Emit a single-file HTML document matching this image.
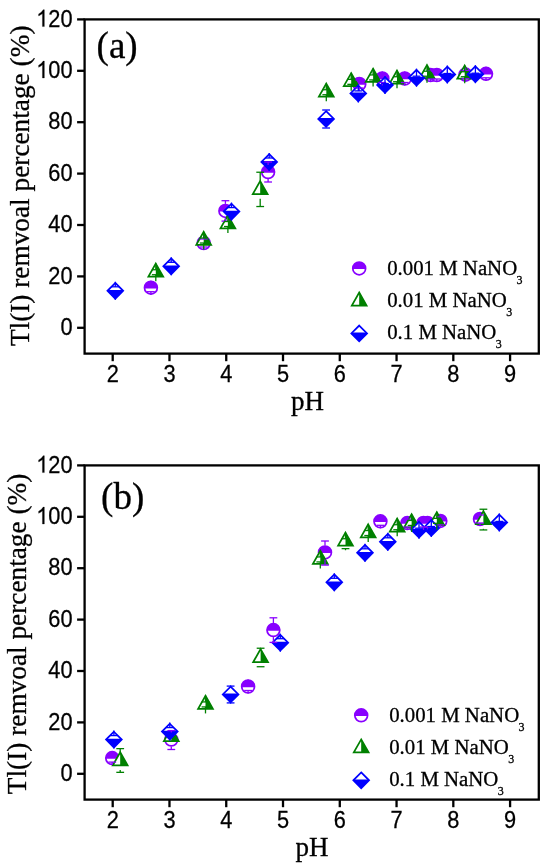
<!DOCTYPE html>
<html><head><meta charset="utf-8"><title>Tl(I) removal vs pH</title>
<style>
html,body{margin:0;padding:0;background:#fff;}
body{width:551px;height:865px;overflow:hidden;}
svg{display:block;will-change:transform;}
</style></head>
<body>
<svg width="551" height="865" viewBox="0 0 551 865">
<rect width="551" height="865" fill="#fff"/>
<rect x="84.6" y="19.4" width="454.2" height="334.2" fill="none" stroke="#000" stroke-width="2.3"/>
<line x1="77.1" y1="327.8" x2="84.6" y2="327.8" stroke="#000" stroke-width="2.3"/>
<text transform="translate(72.6,335) scale(1,1.08)" text-anchor="end" font-family="'Liberation Sans', sans-serif" stroke="#000" stroke-width="0.25" font-size="21.8">0</text>
<line x1="77.1" y1="276.4" x2="84.6" y2="276.4" stroke="#000" stroke-width="2.3"/>
<text transform="translate(72.6,283.6) scale(1,1.08)" text-anchor="end" font-family="'Liberation Sans', sans-serif" stroke="#000" stroke-width="0.25" font-size="21.8">20</text>
<line x1="77.1" y1="225" x2="84.6" y2="225" stroke="#000" stroke-width="2.3"/>
<text transform="translate(72.6,232.2) scale(1,1.08)" text-anchor="end" font-family="'Liberation Sans', sans-serif" stroke="#000" stroke-width="0.25" font-size="21.8">40</text>
<line x1="77.1" y1="173.6" x2="84.6" y2="173.6" stroke="#000" stroke-width="2.3"/>
<text transform="translate(72.6,180.8) scale(1,1.08)" text-anchor="end" font-family="'Liberation Sans', sans-serif" stroke="#000" stroke-width="0.25" font-size="21.8">60</text>
<line x1="77.1" y1="122.2" x2="84.6" y2="122.2" stroke="#000" stroke-width="2.3"/>
<text transform="translate(72.6,129.4) scale(1,1.08)" text-anchor="end" font-family="'Liberation Sans', sans-serif" stroke="#000" stroke-width="0.25" font-size="21.8">80</text>
<line x1="77.1" y1="70.8" x2="84.6" y2="70.8" stroke="#000" stroke-width="2.3"/>
<path transform="translate(36.23,78) scale(0.01064,-0.01150)" d="M763 0H583V1147Q518 1085 412.5 1023T223 930V1104Q374 1175 487 1276T647 1472H763V0Z" stroke="#000" stroke-width="23.5"/>
<text transform="translate(72.6,78) scale(1,1.08)" text-anchor="end" font-family="'Liberation Sans', sans-serif" stroke="#000" stroke-width="0.25" font-size="21.8">00</text>
<line x1="77.1" y1="19.4" x2="84.6" y2="19.4" stroke="#000" stroke-width="2.3"/>
<path transform="translate(36.23,26.6) scale(0.01064,-0.01150)" d="M763 0H583V1147Q518 1085 412.5 1023T223 930V1104Q374 1175 487 1276T647 1472H763V0Z" stroke="#000" stroke-width="23.5"/>
<text transform="translate(72.6,26.6) scale(1,1.08)" text-anchor="end" font-family="'Liberation Sans', sans-serif" stroke="#000" stroke-width="0.25" font-size="21.8">20</text>
<line x1="112.7" y1="353.6" x2="112.7" y2="361.2" stroke="#000" stroke-width="2.3"/>
<text transform="translate(112.7,382.3) scale(1,1.08)" text-anchor="middle" font-family="'Liberation Sans', sans-serif" stroke="#000" stroke-width="0.25" font-size="21.8">2</text>
<line x1="169.47" y1="353.6" x2="169.47" y2="361.2" stroke="#000" stroke-width="2.3"/>
<text transform="translate(169.47,382.3) scale(1,1.08)" text-anchor="middle" font-family="'Liberation Sans', sans-serif" stroke="#000" stroke-width="0.25" font-size="21.8">3</text>
<line x1="226.24" y1="353.6" x2="226.24" y2="361.2" stroke="#000" stroke-width="2.3"/>
<text transform="translate(226.24,382.3) scale(1,1.08)" text-anchor="middle" font-family="'Liberation Sans', sans-serif" stroke="#000" stroke-width="0.25" font-size="21.8">4</text>
<line x1="283.01" y1="353.6" x2="283.01" y2="361.2" stroke="#000" stroke-width="2.3"/>
<text transform="translate(283.01,382.3) scale(1,1.08)" text-anchor="middle" font-family="'Liberation Sans', sans-serif" stroke="#000" stroke-width="0.25" font-size="21.8">5</text>
<line x1="339.78" y1="353.6" x2="339.78" y2="361.2" stroke="#000" stroke-width="2.3"/>
<text transform="translate(339.78,382.3) scale(1,1.08)" text-anchor="middle" font-family="'Liberation Sans', sans-serif" stroke="#000" stroke-width="0.25" font-size="21.8">6</text>
<line x1="396.55" y1="353.6" x2="396.55" y2="361.2" stroke="#000" stroke-width="2.3"/>
<text transform="translate(396.55,382.3) scale(1,1.08)" text-anchor="middle" font-family="'Liberation Sans', sans-serif" stroke="#000" stroke-width="0.25" font-size="21.8">7</text>
<line x1="453.32" y1="353.6" x2="453.32" y2="361.2" stroke="#000" stroke-width="2.3"/>
<text transform="translate(453.32,382.3) scale(1,1.08)" text-anchor="middle" font-family="'Liberation Sans', sans-serif" stroke="#000" stroke-width="0.25" font-size="21.8">8</text>
<line x1="510.09" y1="353.6" x2="510.09" y2="361.2" stroke="#000" stroke-width="2.3"/>
<text transform="translate(510.09,382.3) scale(1,1.08)" text-anchor="middle" font-family="'Liberation Sans', sans-serif" stroke="#000" stroke-width="0.25" font-size="21.8">9</text>
<text x="291" y="409.6" font-family="'Liberation Serif', serif" stroke="#000" stroke-width="0.3" font-size="27">pH</text>
<text transform="translate(29,185.8) rotate(-90)" text-anchor="middle" font-family="'Liberation Serif', serif" stroke="#000" stroke-width="0.3" font-size="27.3">Tl(I) remvoal percentage (%)</text>
<text x="96.6" y="57.6" font-family="'Liberation Serif', serif" stroke="#000" stroke-width="0.3" font-size="37">(a)</text>
<circle cx="150.9" cy="287.7" r="6.4" fill="#fff"/><path d="M144.54,288.4 A6.4,6.4 0 1 1 157.26,288.4 Z" fill="#8800ff"/><circle cx="150.9" cy="287.7" r="6.4" fill="none" stroke="#8800ff" stroke-width="1.75"/>
<circle cx="203.7" cy="243" r="6.4" fill="#fff"/><path d="M197.34,243.7 A6.4,6.4 0 1 1 210.06,243.7 Z" fill="#8800ff"/><circle cx="203.7" cy="243" r="6.4" fill="none" stroke="#8800ff" stroke-width="1.75"/>
<circle cx="225.4" cy="210.9" r="6.4" fill="#fff"/><path d="M219.04,211.6 A6.4,6.4 0 1 1 231.76,211.6 Z" fill="#8800ff"/><circle cx="225.4" cy="210.9" r="6.4" fill="none" stroke="#8800ff" stroke-width="1.75"/>
<circle cx="268.1" cy="172" r="6.4" fill="#fff"/><path d="M261.74,172.7 A6.4,6.4 0 1 1 274.46,172.7 Z" fill="#8800ff"/><circle cx="268.1" cy="172" r="6.4" fill="none" stroke="#8800ff" stroke-width="1.75"/>
<circle cx="359.3" cy="84" r="6.4" fill="#fff"/><path d="M352.94,84.7 A6.4,6.4 0 1 1 365.66,84.7 Z" fill="#8800ff"/><circle cx="359.3" cy="84" r="6.4" fill="none" stroke="#8800ff" stroke-width="1.75"/>
<circle cx="382.3" cy="78.5" r="6.4" fill="#fff"/><path d="M375.94,79.2 A6.4,6.4 0 1 1 388.66,79.2 Z" fill="#8800ff"/><circle cx="382.3" cy="78.5" r="6.4" fill="none" stroke="#8800ff" stroke-width="1.75"/>
<circle cx="404.7" cy="78.5" r="6.4" fill="#fff"/><path d="M398.34,79.2 A6.4,6.4 0 1 1 411.06,79.2 Z" fill="#8800ff"/><circle cx="404.7" cy="78.5" r="6.4" fill="none" stroke="#8800ff" stroke-width="1.75"/>
<circle cx="430.6" cy="75" r="6.4" fill="#fff"/><path d="M424.24,75.7 A6.4,6.4 0 1 1 436.96,75.7 Z" fill="#8800ff"/><circle cx="430.6" cy="75" r="6.4" fill="none" stroke="#8800ff" stroke-width="1.75"/>
<circle cx="436.8" cy="75" r="6.4" fill="#fff"/><path d="M430.44,75.7 A6.4,6.4 0 1 1 443.16,75.7 Z" fill="#8800ff"/><circle cx="436.8" cy="75" r="6.4" fill="none" stroke="#8800ff" stroke-width="1.75"/>
<circle cx="465.5" cy="74.6" r="6.4" fill="#fff"/><path d="M459.14,75.3 A6.4,6.4 0 1 1 471.86,75.3 Z" fill="#8800ff"/><circle cx="465.5" cy="74.6" r="6.4" fill="none" stroke="#8800ff" stroke-width="1.75"/>
<circle cx="486" cy="73.8" r="6.4" fill="#fff"/><path d="M479.64,74.5 A6.4,6.4 0 1 1 492.36,74.5 Z" fill="#8800ff"/><circle cx="486" cy="73.8" r="6.4" fill="none" stroke="#8800ff" stroke-width="1.75"/>
<path d="M155.8,263.56 L163.2,276.56 L148.4,276.56 Z" fill="#fff"/><path d="M155.8,263.56 L163.2,276.56 L155.8,276.56 Z" fill="#008000"/><path d="M155.8,263.56 L163.2,276.56 L148.4,276.56 Z" fill="none" stroke="#008000" stroke-width="1.75" stroke-linejoin="miter"/>
<path d="M203.7,231.86 L211.1,244.86 L196.3,244.86 Z" fill="#fff"/><path d="M203.7,231.86 L211.1,244.86 L203.7,244.86 Z" fill="#008000"/><path d="M203.7,231.86 L211.1,244.86 L196.3,244.86 Z" fill="none" stroke="#008000" stroke-width="1.75" stroke-linejoin="miter"/>
<path d="M227.9,215.36 L235.3,228.36 L220.5,228.36 Z" fill="#fff"/><path d="M227.9,215.36 L235.3,228.36 L227.9,228.36 Z" fill="#008000"/><path d="M227.9,215.36 L235.3,228.36 L220.5,228.36 Z" fill="none" stroke="#008000" stroke-width="1.75" stroke-linejoin="miter"/>
<path d="M260.2,181.06 L267.6,194.06 L252.8,194.06 Z" fill="#fff"/><path d="M260.2,181.06 L267.6,194.06 L260.2,194.06 Z" fill="#008000"/><path d="M260.2,181.06 L267.6,194.06 L252.8,194.06 Z" fill="none" stroke="#008000" stroke-width="1.75" stroke-linejoin="miter"/>
<path d="M326.3,83.56 L333.7,96.56 L318.9,96.56 Z" fill="#fff"/><path d="M326.3,83.56 L333.7,96.56 L326.3,96.56 Z" fill="#008000"/><path d="M326.3,83.56 L333.7,96.56 L318.9,96.56 Z" fill="none" stroke="#008000" stroke-width="1.75" stroke-linejoin="miter"/>
<path d="M351.2,73.16 L358.6,86.16 L343.8,86.16 Z" fill="#fff"/><path d="M351.2,73.16 L358.6,86.16 L351.2,86.16 Z" fill="#008000"/><path d="M351.2,73.16 L358.6,86.16 L343.8,86.16 Z" fill="none" stroke="#008000" stroke-width="1.75" stroke-linejoin="miter"/>
<path d="M373.1,68.76 L380.5,81.76 L365.7,81.76 Z" fill="#fff"/><path d="M373.1,68.76 L380.5,81.76 L373.1,81.76 Z" fill="#008000"/><path d="M373.1,68.76 L380.5,81.76 L365.7,81.76 Z" fill="none" stroke="#008000" stroke-width="1.75" stroke-linejoin="miter"/>
<path d="M397,70.56 L404.4,83.56 L389.6,83.56 Z" fill="#fff"/><path d="M397,70.56 L404.4,83.56 L397,83.56 Z" fill="#008000"/><path d="M397,70.56 L404.4,83.56 L389.6,83.56 Z" fill="none" stroke="#008000" stroke-width="1.75" stroke-linejoin="miter"/>
<path d="M427,65.06 L434.4,78.06 L419.6,78.06 Z" fill="#fff"/><path d="M427,65.06 L434.4,78.06 L427,78.06 Z" fill="#008000"/><path d="M427,65.06 L434.4,78.06 L419.6,78.06 Z" fill="none" stroke="#008000" stroke-width="1.75" stroke-linejoin="miter"/>
<path d="M464.7,65.56 L472.1,78.56 L457.3,78.56 Z" fill="#fff"/><path d="M464.7,65.56 L472.1,78.56 L464.7,78.56 Z" fill="#008000"/><path d="M464.7,65.56 L472.1,78.56 L457.3,78.56 Z" fill="none" stroke="#008000" stroke-width="1.75" stroke-linejoin="miter"/>
<path d="M115.3,282.95 L123.15,290.8 L115.3,298.65 L107.45,290.8 Z" fill="#fff"/><path d="M108.35,289.9 L122.25,289.9 L123.15,290.8 L115.3,298.65 L107.45,290.8 Z" fill="#0000ff"/><path d="M115.3,282.95 L123.15,290.8 L115.3,298.65 L107.45,290.8 Z" fill="none" stroke="#0000ff" stroke-width="1.75"/>
<path d="M171.2,258.45 L179.05,266.3 L171.2,274.15 L163.35,266.3 Z" fill="#fff"/><path d="M164.25,265.4 L178.15,265.4 L179.05,266.3 L171.2,274.15 L163.35,266.3 Z" fill="#0000ff"/><path d="M171.2,258.45 L179.05,266.3 L171.2,274.15 L163.35,266.3 Z" fill="none" stroke="#0000ff" stroke-width="1.75"/>
<path d="M231.5,203.75 L239.35,211.6 L231.5,219.45 L223.65,211.6 Z" fill="#fff"/><path d="M224.55,210.7 L238.45,210.7 L239.35,211.6 L231.5,219.45 L223.65,211.6 Z" fill="#0000ff"/><path d="M231.5,203.75 L239.35,211.6 L231.5,219.45 L223.65,211.6 Z" fill="none" stroke="#0000ff" stroke-width="1.75"/>
<path d="M269.2,154.15 L277.05,162 L269.2,169.85 L261.35,162 Z" fill="#fff"/><path d="M262.25,161.1 L276.15,161.1 L277.05,162 L269.2,169.85 L261.35,162 Z" fill="#0000ff"/><path d="M269.2,154.15 L277.05,162 L269.2,169.85 L261.35,162 Z" fill="none" stroke="#0000ff" stroke-width="1.75"/>
<path d="M326.1,111.15 L333.95,119 L326.1,126.85 L318.25,119 Z" fill="#fff"/><path d="M319.15,118.1 L333.05,118.1 L333.95,119 L326.1,126.85 L318.25,119 Z" fill="#0000ff"/><path d="M326.1,111.15 L333.95,119 L326.1,126.85 L318.25,119 Z" fill="none" stroke="#0000ff" stroke-width="1.75"/>
<path d="M358.3,85.55 L366.15,93.4 L358.3,101.25 L350.45,93.4 Z" fill="#fff"/><path d="M351.35,92.5 L365.25,92.5 L366.15,93.4 L358.3,101.25 L350.45,93.4 Z" fill="#0000ff"/><path d="M358.3,85.55 L366.15,93.4 L358.3,101.25 L350.45,93.4 Z" fill="none" stroke="#0000ff" stroke-width="1.75"/>
<path d="M385,77.15 L392.85,85 L385,92.85 L377.15,85 Z" fill="#fff"/><path d="M378.05,84.1 L391.95,84.1 L392.85,85 L385,92.85 L377.15,85 Z" fill="#0000ff"/><path d="M385,77.15 L392.85,85 L385,92.85 L377.15,85 Z" fill="none" stroke="#0000ff" stroke-width="1.75"/>
<path d="M416.5,69.85 L424.35,77.7 L416.5,85.55 L408.65,77.7 Z" fill="#fff"/><path d="M409.55,76.8 L423.45,76.8 L424.35,77.7 L416.5,85.55 L408.65,77.7 Z" fill="#0000ff"/><path d="M416.5,69.85 L424.35,77.7 L416.5,85.55 L408.65,77.7 Z" fill="none" stroke="#0000ff" stroke-width="1.75"/>
<path d="M447.3,66.65 L455.15,74.5 L447.3,82.35 L439.45,74.5 Z" fill="#fff"/><path d="M440.35,73.6 L454.25,73.6 L455.15,74.5 L447.3,82.35 L439.45,74.5 Z" fill="#0000ff"/><path d="M447.3,66.65 L455.15,74.5 L447.3,82.35 L439.45,74.5 Z" fill="none" stroke="#0000ff" stroke-width="1.75"/>
<path d="M475.4,66.35 L483.25,74.2 L475.4,82.05 L467.55,74.2 Z" fill="#fff"/><path d="M468.45,73.3 L482.35,73.3 L483.25,74.2 L475.4,82.05 L467.55,74.2 Z" fill="#0000ff"/><path d="M475.4,66.35 L483.25,74.2 L475.4,82.05 L467.55,74.2 Z" fill="none" stroke="#0000ff" stroke-width="1.75"/>
<line x1="150.9" y1="280.7" x2="150.9" y2="283.7" stroke="#8800ff" stroke-width="1.3"/><line x1="147" y1="283.7" x2="154.8" y2="283.7" stroke="#8800ff" stroke-width="1.3"/><line x1="150.9" y1="294.7" x2="150.9" y2="291.7" stroke="#8800ff" stroke-width="1.3"/><line x1="147" y1="291.7" x2="154.8" y2="291.7" stroke="#8800ff" stroke-width="1.3"/>
<line x1="203.7" y1="236" x2="203.7" y2="239" stroke="#8800ff" stroke-width="1.3"/><line x1="199.8" y1="239" x2="207.6" y2="239" stroke="#8800ff" stroke-width="1.3"/><line x1="203.7" y1="250" x2="203.7" y2="247" stroke="#8800ff" stroke-width="1.3"/><line x1="199.8" y1="247" x2="207.6" y2="247" stroke="#8800ff" stroke-width="1.3"/>
<line x1="225.4" y1="203.9" x2="225.4" y2="200.7" stroke="#8800ff" stroke-width="1.3"/><line x1="221.5" y1="200.7" x2="229.3" y2="200.7" stroke="#8800ff" stroke-width="1.3"/><line x1="225.4" y1="217.9" x2="225.4" y2="221.1" stroke="#8800ff" stroke-width="1.3"/><line x1="221.5" y1="221.1" x2="229.3" y2="221.1" stroke="#8800ff" stroke-width="1.3"/>
<line x1="268.1" y1="165" x2="268.1" y2="162" stroke="#8800ff" stroke-width="1.3"/><line x1="264.2" y1="162" x2="272" y2="162" stroke="#8800ff" stroke-width="1.3"/><line x1="268.1" y1="179" x2="268.1" y2="182" stroke="#8800ff" stroke-width="1.3"/><line x1="264.2" y1="182" x2="272" y2="182" stroke="#8800ff" stroke-width="1.3"/>
<line x1="359.3" y1="77" x2="359.3" y2="80" stroke="#8800ff" stroke-width="1.3"/><line x1="355.4" y1="80" x2="363.2" y2="80" stroke="#8800ff" stroke-width="1.3"/><line x1="359.3" y1="91" x2="359.3" y2="88" stroke="#8800ff" stroke-width="1.3"/><line x1="355.4" y1="88" x2="363.2" y2="88" stroke="#8800ff" stroke-width="1.3"/>
<line x1="382.3" y1="71.5" x2="382.3" y2="74.5" stroke="#8800ff" stroke-width="1.3"/><line x1="378.4" y1="74.5" x2="386.2" y2="74.5" stroke="#8800ff" stroke-width="1.3"/><line x1="382.3" y1="85.5" x2="382.3" y2="82.5" stroke="#8800ff" stroke-width="1.3"/><line x1="378.4" y1="82.5" x2="386.2" y2="82.5" stroke="#8800ff" stroke-width="1.3"/>
<line x1="404.7" y1="71.5" x2="404.7" y2="74.5" stroke="#8800ff" stroke-width="1.3"/><line x1="400.8" y1="74.5" x2="408.6" y2="74.5" stroke="#8800ff" stroke-width="1.3"/><line x1="404.7" y1="85.5" x2="404.7" y2="82.5" stroke="#8800ff" stroke-width="1.3"/><line x1="400.8" y1="82.5" x2="408.6" y2="82.5" stroke="#8800ff" stroke-width="1.3"/>
<line x1="430.6" y1="68" x2="430.6" y2="71" stroke="#8800ff" stroke-width="1.3"/><line x1="426.7" y1="71" x2="434.5" y2="71" stroke="#8800ff" stroke-width="1.3"/><line x1="430.6" y1="82" x2="430.6" y2="79" stroke="#8800ff" stroke-width="1.3"/><line x1="426.7" y1="79" x2="434.5" y2="79" stroke="#8800ff" stroke-width="1.3"/>
<line x1="436.8" y1="68" x2="436.8" y2="71" stroke="#8800ff" stroke-width="1.3"/><line x1="432.9" y1="71" x2="440.7" y2="71" stroke="#8800ff" stroke-width="1.3"/><line x1="436.8" y1="82" x2="436.8" y2="79" stroke="#8800ff" stroke-width="1.3"/><line x1="432.9" y1="79" x2="440.7" y2="79" stroke="#8800ff" stroke-width="1.3"/>
<line x1="465.5" y1="67.6" x2="465.5" y2="70.6" stroke="#8800ff" stroke-width="1.3"/><line x1="461.6" y1="70.6" x2="469.4" y2="70.6" stroke="#8800ff" stroke-width="1.3"/><line x1="465.5" y1="81.6" x2="465.5" y2="78.6" stroke="#8800ff" stroke-width="1.3"/><line x1="461.6" y1="78.6" x2="469.4" y2="78.6" stroke="#8800ff" stroke-width="1.3"/>
<line x1="486" y1="66.8" x2="486" y2="69.8" stroke="#8800ff" stroke-width="1.3"/><line x1="482.1" y1="69.8" x2="489.9" y2="69.8" stroke="#8800ff" stroke-width="1.3"/><line x1="486" y1="80.8" x2="486" y2="77.8" stroke="#8800ff" stroke-width="1.3"/><line x1="482.1" y1="77.8" x2="489.9" y2="77.8" stroke="#8800ff" stroke-width="1.3"/>
<line x1="155.8" y1="263.23" x2="155.8" y2="269.73" stroke="#008000" stroke-width="1.3"/><line x1="151.9" y1="269.73" x2="159.7" y2="269.73" stroke="#008000" stroke-width="1.3"/><line x1="155.8" y1="281.23" x2="155.8" y2="274.73" stroke="#008000" stroke-width="1.3"/><line x1="151.9" y1="274.73" x2="159.7" y2="274.73" stroke="#008000" stroke-width="1.3"/>
<line x1="203.7" y1="231.53" x2="203.7" y2="238.03" stroke="#008000" stroke-width="1.3"/><line x1="199.8" y1="238.03" x2="207.6" y2="238.03" stroke="#008000" stroke-width="1.3"/><line x1="203.7" y1="249.53" x2="203.7" y2="243.03" stroke="#008000" stroke-width="1.3"/><line x1="199.8" y1="243.03" x2="207.6" y2="243.03" stroke="#008000" stroke-width="1.3"/>
<line x1="227.9" y1="215.03" x2="227.9" y2="221.53" stroke="#008000" stroke-width="1.3"/><line x1="224" y1="221.53" x2="231.8" y2="221.53" stroke="#008000" stroke-width="1.3"/><line x1="227.9" y1="233.03" x2="227.9" y2="226.53" stroke="#008000" stroke-width="1.3"/><line x1="224" y1="226.53" x2="231.8" y2="226.53" stroke="#008000" stroke-width="1.3"/>
<line x1="260.2" y1="180.73" x2="260.2" y2="172.23" stroke="#008000" stroke-width="1.3"/><line x1="256.3" y1="172.23" x2="264.1" y2="172.23" stroke="#008000" stroke-width="1.3"/><line x1="260.2" y1="198.73" x2="260.2" y2="206.53" stroke="#008000" stroke-width="1.3"/><line x1="256.3" y1="206.53" x2="264.1" y2="206.53" stroke="#008000" stroke-width="1.3"/>
<line x1="326.3" y1="83.23" x2="326.3" y2="89.73" stroke="#008000" stroke-width="1.3"/><line x1="322.4" y1="89.73" x2="330.2" y2="89.73" stroke="#008000" stroke-width="1.3"/><line x1="326.3" y1="101.23" x2="326.3" y2="94.73" stroke="#008000" stroke-width="1.3"/><line x1="322.4" y1="94.73" x2="330.2" y2="94.73" stroke="#008000" stroke-width="1.3"/>
<line x1="351.2" y1="72.83" x2="351.2" y2="79.33" stroke="#008000" stroke-width="1.3"/><line x1="347.3" y1="79.33" x2="355.1" y2="79.33" stroke="#008000" stroke-width="1.3"/><line x1="351.2" y1="90.83" x2="351.2" y2="84.33" stroke="#008000" stroke-width="1.3"/><line x1="347.3" y1="84.33" x2="355.1" y2="84.33" stroke="#008000" stroke-width="1.3"/>
<line x1="373.1" y1="68.43" x2="373.1" y2="74.93" stroke="#008000" stroke-width="1.3"/><line x1="369.2" y1="74.93" x2="377" y2="74.93" stroke="#008000" stroke-width="1.3"/><line x1="373.1" y1="86.43" x2="373.1" y2="79.93" stroke="#008000" stroke-width="1.3"/><line x1="369.2" y1="79.93" x2="377" y2="79.93" stroke="#008000" stroke-width="1.3"/>
<line x1="397" y1="70.23" x2="397" y2="76.73" stroke="#008000" stroke-width="1.3"/><line x1="393.1" y1="76.73" x2="400.9" y2="76.73" stroke="#008000" stroke-width="1.3"/><line x1="397" y1="88.23" x2="397" y2="81.73" stroke="#008000" stroke-width="1.3"/><line x1="393.1" y1="81.73" x2="400.9" y2="81.73" stroke="#008000" stroke-width="1.3"/>
<line x1="427" y1="64.73" x2="427" y2="71.23" stroke="#008000" stroke-width="1.3"/><line x1="423.1" y1="71.23" x2="430.9" y2="71.23" stroke="#008000" stroke-width="1.3"/><line x1="427" y1="82.73" x2="427" y2="76.23" stroke="#008000" stroke-width="1.3"/><line x1="423.1" y1="76.23" x2="430.9" y2="76.23" stroke="#008000" stroke-width="1.3"/>
<line x1="464.7" y1="65.23" x2="464.7" y2="71.73" stroke="#008000" stroke-width="1.3"/><line x1="460.8" y1="71.73" x2="468.6" y2="71.73" stroke="#008000" stroke-width="1.3"/><line x1="464.7" y1="83.23" x2="464.7" y2="76.73" stroke="#008000" stroke-width="1.3"/><line x1="460.8" y1="76.73" x2="468.6" y2="76.73" stroke="#008000" stroke-width="1.3"/>
<line x1="115.3" y1="281.8" x2="115.3" y2="286.8" stroke="#0000ff" stroke-width="1.3"/><line x1="111.4" y1="286.8" x2="119.2" y2="286.8" stroke="#0000ff" stroke-width="1.3"/><line x1="115.3" y1="299.8" x2="115.3" y2="294.8" stroke="#0000ff" stroke-width="1.3"/><line x1="111.4" y1="294.8" x2="119.2" y2="294.8" stroke="#0000ff" stroke-width="1.3"/>
<line x1="171.2" y1="257.3" x2="171.2" y2="262.3" stroke="#0000ff" stroke-width="1.3"/><line x1="167.3" y1="262.3" x2="175.1" y2="262.3" stroke="#0000ff" stroke-width="1.3"/><line x1="171.2" y1="275.3" x2="171.2" y2="270.3" stroke="#0000ff" stroke-width="1.3"/><line x1="167.3" y1="270.3" x2="175.1" y2="270.3" stroke="#0000ff" stroke-width="1.3"/>
<line x1="231.5" y1="202.6" x2="231.5" y2="207.6" stroke="#0000ff" stroke-width="1.3"/><line x1="227.6" y1="207.6" x2="235.4" y2="207.6" stroke="#0000ff" stroke-width="1.3"/><line x1="231.5" y1="220.6" x2="231.5" y2="215.6" stroke="#0000ff" stroke-width="1.3"/><line x1="227.6" y1="215.6" x2="235.4" y2="215.6" stroke="#0000ff" stroke-width="1.3"/>
<line x1="269.2" y1="153" x2="269.2" y2="158" stroke="#0000ff" stroke-width="1.3"/><line x1="265.3" y1="158" x2="273.1" y2="158" stroke="#0000ff" stroke-width="1.3"/><line x1="269.2" y1="171" x2="269.2" y2="166" stroke="#0000ff" stroke-width="1.3"/><line x1="265.3" y1="166" x2="273.1" y2="166" stroke="#0000ff" stroke-width="1.3"/>
<line x1="322.2" y1="110" x2="330" y2="110" stroke="#0000ff" stroke-width="1.3"/><line x1="322.2" y1="128" x2="330" y2="128" stroke="#0000ff" stroke-width="1.3"/>
<line x1="358.3" y1="84.4" x2="358.3" y2="90.9" stroke="#0000ff" stroke-width="1.3"/><line x1="354.4" y1="90.9" x2="362.2" y2="90.9" stroke="#0000ff" stroke-width="1.3"/><line x1="358.3" y1="102.4" x2="358.3" y2="95.9" stroke="#0000ff" stroke-width="1.3"/><line x1="354.4" y1="95.9" x2="362.2" y2="95.9" stroke="#0000ff" stroke-width="1.3"/>
<line x1="385" y1="76" x2="385" y2="83.5" stroke="#0000ff" stroke-width="1.3"/><line x1="381.1" y1="83.5" x2="388.9" y2="83.5" stroke="#0000ff" stroke-width="1.3"/><line x1="385" y1="94" x2="385" y2="86.5" stroke="#0000ff" stroke-width="1.3"/><line x1="381.1" y1="86.5" x2="388.9" y2="86.5" stroke="#0000ff" stroke-width="1.3"/>
<line x1="416.5" y1="68.7" x2="416.5" y2="76.2" stroke="#0000ff" stroke-width="1.3"/><line x1="412.6" y1="76.2" x2="420.4" y2="76.2" stroke="#0000ff" stroke-width="1.3"/><line x1="416.5" y1="86.7" x2="416.5" y2="79.2" stroke="#0000ff" stroke-width="1.3"/><line x1="412.6" y1="79.2" x2="420.4" y2="79.2" stroke="#0000ff" stroke-width="1.3"/>
<line x1="447.3" y1="65.5" x2="447.3" y2="73.5" stroke="#0000ff" stroke-width="1.3"/><line x1="443.4" y1="73.5" x2="451.2" y2="73.5" stroke="#0000ff" stroke-width="1.3"/><line x1="447.3" y1="83.5" x2="447.3" y2="75.5" stroke="#0000ff" stroke-width="1.3"/><line x1="443.4" y1="75.5" x2="451.2" y2="75.5" stroke="#0000ff" stroke-width="1.3"/>
<line x1="475.4" y1="65.2" x2="475.4" y2="73.2" stroke="#0000ff" stroke-width="1.3"/><line x1="471.5" y1="73.2" x2="479.3" y2="73.2" stroke="#0000ff" stroke-width="1.3"/><line x1="475.4" y1="83.2" x2="475.4" y2="75.2" stroke="#0000ff" stroke-width="1.3"/><line x1="471.5" y1="75.2" x2="479.3" y2="75.2" stroke="#0000ff" stroke-width="1.3"/>
<circle cx="359.2" cy="268.4" r="6.4" fill="#fff"/><path d="M352.84,269.1 A6.4,6.4 0 1 1 365.56,269.1 Z" fill="#8800ff"/><circle cx="359.2" cy="268.4" r="6.4" fill="none" stroke="#8800ff" stroke-width="1.75"/>
<text x="387.2" y="274.8" font-family="'Liberation Serif', serif" stroke="#000" stroke-width="0.3" font-size="20.8">0.001 M NaNO<tspan font-size="12" dx="-0.6" dy="8.8">3</tspan></text>
<path d="M359.2,292.5 L366.6,305.5 L351.8,305.5 Z" fill="#fff"/><path d="M359.2,292.5 L366.6,305.5 L359.2,305.5 Z" fill="#008000"/><path d="M359.2,292.5 L366.6,305.5 L351.8,305.5 Z" fill="none" stroke="#008000" stroke-width="1.75" stroke-linejoin="miter"/>
<text x="387.2" y="307" font-family="'Liberation Serif', serif" stroke="#000" stroke-width="0.3" font-size="20.8">0.01 M NaNO<tspan font-size="12" dx="-0.6" dy="8.8">3</tspan></text>
<path d="M359.2,325.55 L367.05,333.4 L359.2,341.25 L351.35,333.4 Z" fill="#fff"/><path d="M352.25,332.5 L366.15,332.5 L367.05,333.4 L359.2,341.25 L351.35,333.4 Z" fill="#0000ff"/><path d="M359.2,325.55 L367.05,333.4 L359.2,341.25 L351.35,333.4 Z" fill="none" stroke="#0000ff" stroke-width="1.75"/>
<text x="387.2" y="339.2" font-family="'Liberation Serif', serif" stroke="#000" stroke-width="0.3" font-size="20.8">0.1 M NaNO<tspan font-size="12" dx="-0.6" dy="8.8">3</tspan></text>
<rect x="84.6" y="465.4" width="454.2" height="334.2" fill="none" stroke="#000" stroke-width="2.3"/>
<line x1="77.1" y1="773.8" x2="84.6" y2="773.8" stroke="#000" stroke-width="2.3"/>
<text transform="translate(72.6,781) scale(1,1.08)" text-anchor="end" font-family="'Liberation Sans', sans-serif" stroke="#000" stroke-width="0.25" font-size="21.8">0</text>
<line x1="77.1" y1="722.4" x2="84.6" y2="722.4" stroke="#000" stroke-width="2.3"/>
<text transform="translate(72.6,729.6) scale(1,1.08)" text-anchor="end" font-family="'Liberation Sans', sans-serif" stroke="#000" stroke-width="0.25" font-size="21.8">20</text>
<line x1="77.1" y1="671" x2="84.6" y2="671" stroke="#000" stroke-width="2.3"/>
<text transform="translate(72.6,678.2) scale(1,1.08)" text-anchor="end" font-family="'Liberation Sans', sans-serif" stroke="#000" stroke-width="0.25" font-size="21.8">40</text>
<line x1="77.1" y1="619.6" x2="84.6" y2="619.6" stroke="#000" stroke-width="2.3"/>
<text transform="translate(72.6,626.8) scale(1,1.08)" text-anchor="end" font-family="'Liberation Sans', sans-serif" stroke="#000" stroke-width="0.25" font-size="21.8">60</text>
<line x1="77.1" y1="568.2" x2="84.6" y2="568.2" stroke="#000" stroke-width="2.3"/>
<text transform="translate(72.6,575.4) scale(1,1.08)" text-anchor="end" font-family="'Liberation Sans', sans-serif" stroke="#000" stroke-width="0.25" font-size="21.8">80</text>
<line x1="77.1" y1="516.8" x2="84.6" y2="516.8" stroke="#000" stroke-width="2.3"/>
<path transform="translate(36.23,524) scale(0.01064,-0.01150)" d="M763 0H583V1147Q518 1085 412.5 1023T223 930V1104Q374 1175 487 1276T647 1472H763V0Z" stroke="#000" stroke-width="23.5"/>
<text transform="translate(72.6,524) scale(1,1.08)" text-anchor="end" font-family="'Liberation Sans', sans-serif" stroke="#000" stroke-width="0.25" font-size="21.8">00</text>
<line x1="77.1" y1="465.4" x2="84.6" y2="465.4" stroke="#000" stroke-width="2.3"/>
<path transform="translate(36.23,472.6) scale(0.01064,-0.01150)" d="M763 0H583V1147Q518 1085 412.5 1023T223 930V1104Q374 1175 487 1276T647 1472H763V0Z" stroke="#000" stroke-width="23.5"/>
<text transform="translate(72.6,472.6) scale(1,1.08)" text-anchor="end" font-family="'Liberation Sans', sans-serif" stroke="#000" stroke-width="0.25" font-size="21.8">20</text>
<line x1="112.7" y1="799.6" x2="112.7" y2="807.2" stroke="#000" stroke-width="2.3"/>
<text transform="translate(112.7,828.3) scale(1,1.08)" text-anchor="middle" font-family="'Liberation Sans', sans-serif" stroke="#000" stroke-width="0.25" font-size="21.8">2</text>
<line x1="169.47" y1="799.6" x2="169.47" y2="807.2" stroke="#000" stroke-width="2.3"/>
<text transform="translate(169.47,828.3) scale(1,1.08)" text-anchor="middle" font-family="'Liberation Sans', sans-serif" stroke="#000" stroke-width="0.25" font-size="21.8">3</text>
<line x1="226.24" y1="799.6" x2="226.24" y2="807.2" stroke="#000" stroke-width="2.3"/>
<text transform="translate(226.24,828.3) scale(1,1.08)" text-anchor="middle" font-family="'Liberation Sans', sans-serif" stroke="#000" stroke-width="0.25" font-size="21.8">4</text>
<line x1="283.01" y1="799.6" x2="283.01" y2="807.2" stroke="#000" stroke-width="2.3"/>
<text transform="translate(283.01,828.3) scale(1,1.08)" text-anchor="middle" font-family="'Liberation Sans', sans-serif" stroke="#000" stroke-width="0.25" font-size="21.8">5</text>
<line x1="339.78" y1="799.6" x2="339.78" y2="807.2" stroke="#000" stroke-width="2.3"/>
<text transform="translate(339.78,828.3) scale(1,1.08)" text-anchor="middle" font-family="'Liberation Sans', sans-serif" stroke="#000" stroke-width="0.25" font-size="21.8">6</text>
<line x1="396.55" y1="799.6" x2="396.55" y2="807.2" stroke="#000" stroke-width="2.3"/>
<text transform="translate(396.55,828.3) scale(1,1.08)" text-anchor="middle" font-family="'Liberation Sans', sans-serif" stroke="#000" stroke-width="0.25" font-size="21.8">7</text>
<line x1="453.32" y1="799.6" x2="453.32" y2="807.2" stroke="#000" stroke-width="2.3"/>
<text transform="translate(453.32,828.3) scale(1,1.08)" text-anchor="middle" font-family="'Liberation Sans', sans-serif" stroke="#000" stroke-width="0.25" font-size="21.8">8</text>
<line x1="510.09" y1="799.6" x2="510.09" y2="807.2" stroke="#000" stroke-width="2.3"/>
<text transform="translate(510.09,828.3) scale(1,1.08)" text-anchor="middle" font-family="'Liberation Sans', sans-serif" stroke="#000" stroke-width="0.25" font-size="21.8">9</text>
<text x="295.6" y="855.6" font-family="'Liberation Serif', serif" stroke="#000" stroke-width="0.3" font-size="27">pH</text>
<text transform="translate(26.3,633.9) rotate(-90)" text-anchor="middle" font-family="'Liberation Serif', serif" stroke="#000" stroke-width="0.3" font-size="27.3">Tl(I) remvoal percentage (%)</text>
<text x="101.1" y="509.1" font-family="'Liberation Serif', serif" stroke="#000" stroke-width="0.3" font-size="37">(b)</text>
<circle cx="112.2" cy="758.1" r="6.4" fill="#fff"/><path d="M105.84,758.8 A6.4,6.4 0 1 1 118.56,758.8 Z" fill="#8800ff"/><circle cx="112.2" cy="758.1" r="6.4" fill="none" stroke="#8800ff" stroke-width="1.75"/>
<circle cx="171.3" cy="739.6" r="6.4" fill="#fff"/><path d="M164.94,740.3 A6.4,6.4 0 1 1 177.66,740.3 Z" fill="#8800ff"/><circle cx="171.3" cy="739.6" r="6.4" fill="none" stroke="#8800ff" stroke-width="1.75"/>
<circle cx="248.1" cy="686.5" r="6.4" fill="#fff"/><path d="M241.74,687.2 A6.4,6.4 0 1 1 254.46,687.2 Z" fill="#8800ff"/><circle cx="248.1" cy="686.5" r="6.4" fill="none" stroke="#8800ff" stroke-width="1.75"/>
<circle cx="273.4" cy="630.1" r="6.4" fill="#fff"/><path d="M267.04,630.8 A6.4,6.4 0 1 1 279.76,630.8 Z" fill="#8800ff"/><circle cx="273.4" cy="630.1" r="6.4" fill="none" stroke="#8800ff" stroke-width="1.75"/>
<circle cx="325" cy="552.4" r="6.4" fill="#fff"/><path d="M318.64,553.1 A6.4,6.4 0 1 1 331.36,553.1 Z" fill="#8800ff"/><circle cx="325" cy="552.4" r="6.4" fill="none" stroke="#8800ff" stroke-width="1.75"/>
<circle cx="380.4" cy="521.3" r="6.4" fill="#fff"/><path d="M374.04,522 A6.4,6.4 0 1 1 386.76,522 Z" fill="#8800ff"/><circle cx="380.4" cy="521.3" r="6.4" fill="none" stroke="#8800ff" stroke-width="1.75"/>
<circle cx="407.3" cy="523.1" r="6.4" fill="#fff"/><path d="M400.94,523.8 A6.4,6.4 0 1 1 413.66,523.8 Z" fill="#8800ff"/><circle cx="407.3" cy="523.1" r="6.4" fill="none" stroke="#8800ff" stroke-width="1.75"/>
<circle cx="423.5" cy="523" r="6.4" fill="#fff"/><path d="M417.14,523.7 A6.4,6.4 0 1 1 429.86,523.7 Z" fill="#8800ff"/><circle cx="423.5" cy="523" r="6.4" fill="none" stroke="#8800ff" stroke-width="1.75"/>
<circle cx="427.5" cy="523" r="6.4" fill="#fff"/><path d="M421.14,523.7 A6.4,6.4 0 1 1 433.86,523.7 Z" fill="#8800ff"/><circle cx="427.5" cy="523" r="6.4" fill="none" stroke="#8800ff" stroke-width="1.75"/>
<circle cx="440.3" cy="520.9" r="6.4" fill="#fff"/><path d="M433.94,521.6 A6.4,6.4 0 1 1 446.66,521.6 Z" fill="#8800ff"/><circle cx="440.3" cy="520.9" r="6.4" fill="none" stroke="#8800ff" stroke-width="1.75"/>
<circle cx="480" cy="519" r="6.4" fill="#fff"/><path d="M473.64,519.7 A6.4,6.4 0 1 1 486.36,519.7 Z" fill="#8800ff"/><circle cx="480" cy="519" r="6.4" fill="none" stroke="#8800ff" stroke-width="1.75"/>
<path d="M120.2,752.26 L127.6,765.26 L112.8,765.26 Z" fill="#fff"/><path d="M120.2,752.26 L127.6,765.26 L120.2,765.26 Z" fill="#008000"/><path d="M120.2,752.26 L127.6,765.26 L112.8,765.26 Z" fill="none" stroke="#008000" stroke-width="1.75" stroke-linejoin="miter"/>
<path d="M171.3,728.06 L178.7,741.06 L163.9,741.06 Z" fill="#fff"/><path d="M171.3,728.06 L178.7,741.06 L171.3,741.06 Z" fill="#008000"/><path d="M171.3,728.06 L178.7,741.06 L163.9,741.06 Z" fill="none" stroke="#008000" stroke-width="1.75" stroke-linejoin="miter"/>
<path d="M205.5,695.76 L212.9,708.76 L198.1,708.76 Z" fill="#fff"/><path d="M205.5,695.76 L212.9,708.76 L205.5,708.76 Z" fill="#008000"/><path d="M205.5,695.76 L212.9,708.76 L198.1,708.76 Z" fill="none" stroke="#008000" stroke-width="1.75" stroke-linejoin="miter"/>
<path d="M260.6,649.06 L268,662.06 L253.2,662.06 Z" fill="#fff"/><path d="M260.6,649.06 L268,662.06 L260.6,662.06 Z" fill="#008000"/><path d="M260.6,649.06 L268,662.06 L253.2,662.06 Z" fill="none" stroke="#008000" stroke-width="1.75" stroke-linejoin="miter"/>
<path d="M320.3,550.76 L327.7,563.76 L312.9,563.76 Z" fill="#fff"/><path d="M320.3,550.76 L327.7,563.76 L320.3,563.76 Z" fill="#008000"/><path d="M320.3,550.76 L327.7,563.76 L312.9,563.76 Z" fill="none" stroke="#008000" stroke-width="1.75" stroke-linejoin="miter"/>
<path d="M345.5,532.56 L352.9,545.56 L338.1,545.56 Z" fill="#fff"/><path d="M345.5,532.56 L352.9,545.56 L345.5,545.56 Z" fill="#008000"/><path d="M345.5,532.56 L352.9,545.56 L338.1,545.56 Z" fill="none" stroke="#008000" stroke-width="1.75" stroke-linejoin="miter"/>
<path d="M368.2,524.36 L375.6,537.36 L360.8,537.36 Z" fill="#fff"/><path d="M368.2,524.36 L375.6,537.36 L368.2,537.36 Z" fill="#008000"/><path d="M368.2,524.36 L375.6,537.36 L360.8,537.36 Z" fill="none" stroke="#008000" stroke-width="1.75" stroke-linejoin="miter"/>
<path d="M397.2,518.56 L404.6,531.56 L389.8,531.56 Z" fill="#fff"/><path d="M397.2,518.56 L404.6,531.56 L397.2,531.56 Z" fill="#008000"/><path d="M397.2,518.56 L404.6,531.56 L389.8,531.56 Z" fill="none" stroke="#008000" stroke-width="1.75" stroke-linejoin="miter"/>
<path d="M411.6,514.26 L419,527.26 L404.2,527.26 Z" fill="#fff"/><path d="M411.6,514.26 L419,527.26 L411.6,527.26 Z" fill="#008000"/><path d="M411.6,514.26 L419,527.26 L404.2,527.26 Z" fill="none" stroke="#008000" stroke-width="1.75" stroke-linejoin="miter"/>
<path d="M436.8,512.16 L444.2,525.16 L429.4,525.16 Z" fill="#fff"/><path d="M436.8,512.16 L444.2,525.16 L436.8,525.16 Z" fill="#008000"/><path d="M436.8,512.16 L444.2,525.16 L429.4,525.16 Z" fill="none" stroke="#008000" stroke-width="1.75" stroke-linejoin="miter"/>
<path d="M483.4,511.16 L490.8,524.16 L476,524.16 Z" fill="#fff"/><path d="M483.4,511.16 L490.8,524.16 L483.4,524.16 Z" fill="#008000"/><path d="M483.4,511.16 L490.8,524.16 L476,524.16 Z" fill="none" stroke="#008000" stroke-width="1.75" stroke-linejoin="miter"/>
<path d="M113.9,731.75 L121.75,739.6 L113.9,747.45 L106.05,739.6 Z" fill="#fff"/><path d="M106.95,738.7 L120.85,738.7 L121.75,739.6 L113.9,747.45 L106.05,739.6 Z" fill="#0000ff"/><path d="M113.9,731.75 L121.75,739.6 L113.9,747.45 L106.05,739.6 Z" fill="none" stroke="#0000ff" stroke-width="1.75"/>
<path d="M169.8,723.75 L177.65,731.6 L169.8,739.45 L161.95,731.6 Z" fill="#fff"/><path d="M162.85,730.7 L176.75,730.7 L177.65,731.6 L169.8,739.45 L161.95,731.6 Z" fill="#0000ff"/><path d="M169.8,723.75 L177.65,731.6 L169.8,739.45 L161.95,731.6 Z" fill="none" stroke="#0000ff" stroke-width="1.75"/>
<path d="M230.6,686.65 L238.45,694.5 L230.6,702.35 L222.75,694.5 Z" fill="#fff"/><path d="M223.65,693.6 L237.55,693.6 L238.45,694.5 L230.6,702.35 L222.75,694.5 Z" fill="#0000ff"/><path d="M230.6,686.65 L238.45,694.5 L230.6,702.35 L222.75,694.5 Z" fill="none" stroke="#0000ff" stroke-width="1.75"/>
<path d="M280.3,634.85 L288.15,642.7 L280.3,650.55 L272.45,642.7 Z" fill="#fff"/><path d="M273.35,641.8 L287.25,641.8 L288.15,642.7 L280.3,650.55 L272.45,642.7 Z" fill="#0000ff"/><path d="M280.3,634.85 L288.15,642.7 L280.3,650.55 L272.45,642.7 Z" fill="none" stroke="#0000ff" stroke-width="1.75"/>
<path d="M334.3,574.45 L342.15,582.3 L334.3,590.15 L326.45,582.3 Z" fill="#fff"/><path d="M327.35,581.4 L341.25,581.4 L342.15,582.3 L334.3,590.15 L326.45,582.3 Z" fill="#0000ff"/><path d="M334.3,574.45 L342.15,582.3 L334.3,590.15 L326.45,582.3 Z" fill="none" stroke="#0000ff" stroke-width="1.75"/>
<path d="M365,544.95 L372.85,552.8 L365,560.65 L357.15,552.8 Z" fill="#fff"/><path d="M358.05,551.9 L371.95,551.9 L372.85,552.8 L365,560.65 L357.15,552.8 Z" fill="#0000ff"/><path d="M365,544.95 L372.85,552.8 L365,560.65 L357.15,552.8 Z" fill="none" stroke="#0000ff" stroke-width="1.75"/>
<path d="M387.8,533.95 L395.65,541.8 L387.8,549.65 L379.95,541.8 Z" fill="#fff"/><path d="M380.85,540.9 L394.75,540.9 L395.65,541.8 L387.8,549.65 L379.95,541.8 Z" fill="#0000ff"/><path d="M387.8,533.95 L395.65,541.8 L387.8,549.65 L379.95,541.8 Z" fill="none" stroke="#0000ff" stroke-width="1.75"/>
<path d="M419,521.85 L426.85,529.7 L419,537.55 L411.15,529.7 Z" fill="#fff"/><path d="M412.05,528.8 L425.95,528.8 L426.85,529.7 L419,537.55 L411.15,529.7 Z" fill="#0000ff"/><path d="M419,521.85 L426.85,529.7 L419,537.55 L411.15,529.7 Z" fill="none" stroke="#0000ff" stroke-width="1.75"/>
<path d="M431.3,520.15 L439.15,528 L431.3,535.85 L423.45,528 Z" fill="#fff"/><path d="M424.35,527.1 L438.25,527.1 L439.15,528 L431.3,535.85 L423.45,528 Z" fill="#0000ff"/><path d="M431.3,520.15 L439.15,528 L431.3,535.85 L423.45,528 Z" fill="none" stroke="#0000ff" stroke-width="1.75"/>
<path d="M499.3,514.55 L507.15,522.4 L499.3,530.25 L491.45,522.4 Z" fill="#fff"/><path d="M492.35,521.5 L506.25,521.5 L507.15,522.4 L499.3,530.25 L491.45,522.4 Z" fill="#0000ff"/><path d="M499.3,514.55 L507.15,522.4 L499.3,530.25 L491.45,522.4 Z" fill="none" stroke="#0000ff" stroke-width="1.75"/>
<line x1="112.2" y1="751.1" x2="112.2" y2="754.1" stroke="#8800ff" stroke-width="1.3"/><line x1="108.3" y1="754.1" x2="116.1" y2="754.1" stroke="#8800ff" stroke-width="1.3"/><line x1="112.2" y1="765.1" x2="112.2" y2="762.1" stroke="#8800ff" stroke-width="1.3"/><line x1="108.3" y1="762.1" x2="116.1" y2="762.1" stroke="#8800ff" stroke-width="1.3"/>
<line x1="171.3" y1="732.6" x2="171.3" y2="730.6" stroke="#8800ff" stroke-width="1.3"/><line x1="167.4" y1="730.6" x2="175.2" y2="730.6" stroke="#8800ff" stroke-width="1.3"/><line x1="171.3" y1="746.6" x2="171.3" y2="749.5" stroke="#8800ff" stroke-width="1.3"/><line x1="167.4" y1="749.5" x2="175.2" y2="749.5" stroke="#8800ff" stroke-width="1.3"/>
<line x1="248.1" y1="679.5" x2="248.1" y2="682.5" stroke="#8800ff" stroke-width="1.3"/><line x1="244.2" y1="682.5" x2="252" y2="682.5" stroke="#8800ff" stroke-width="1.3"/><line x1="248.1" y1="693.5" x2="248.1" y2="690.5" stroke="#8800ff" stroke-width="1.3"/><line x1="244.2" y1="690.5" x2="252" y2="690.5" stroke="#8800ff" stroke-width="1.3"/>
<line x1="273.4" y1="623.1" x2="273.4" y2="617.8" stroke="#8800ff" stroke-width="1.3"/><line x1="269.5" y1="617.8" x2="277.3" y2="617.8" stroke="#8800ff" stroke-width="1.3"/><line x1="273.4" y1="637.1" x2="273.4" y2="642.4" stroke="#8800ff" stroke-width="1.3"/><line x1="269.5" y1="642.4" x2="277.3" y2="642.4" stroke="#8800ff" stroke-width="1.3"/>
<line x1="325" y1="545.4" x2="325" y2="541" stroke="#8800ff" stroke-width="1.3"/><line x1="321.1" y1="541" x2="328.9" y2="541" stroke="#8800ff" stroke-width="1.3"/><line x1="325" y1="559.4" x2="325" y2="565.1" stroke="#8800ff" stroke-width="1.3"/><line x1="321.1" y1="565.1" x2="328.9" y2="565.1" stroke="#8800ff" stroke-width="1.3"/>
<line x1="380.4" y1="514.3" x2="380.4" y2="517.3" stroke="#8800ff" stroke-width="1.3"/><line x1="376.5" y1="517.3" x2="384.3" y2="517.3" stroke="#8800ff" stroke-width="1.3"/><line x1="380.4" y1="528.3" x2="380.4" y2="525.3" stroke="#8800ff" stroke-width="1.3"/><line x1="376.5" y1="525.3" x2="384.3" y2="525.3" stroke="#8800ff" stroke-width="1.3"/>
<line x1="407.3" y1="516.1" x2="407.3" y2="519.1" stroke="#8800ff" stroke-width="1.3"/><line x1="403.4" y1="519.1" x2="411.2" y2="519.1" stroke="#8800ff" stroke-width="1.3"/><line x1="407.3" y1="530.1" x2="407.3" y2="527.1" stroke="#8800ff" stroke-width="1.3"/><line x1="403.4" y1="527.1" x2="411.2" y2="527.1" stroke="#8800ff" stroke-width="1.3"/>
<line x1="423.5" y1="516" x2="423.5" y2="519" stroke="#8800ff" stroke-width="1.3"/><line x1="419.6" y1="519" x2="427.4" y2="519" stroke="#8800ff" stroke-width="1.3"/><line x1="423.5" y1="530" x2="423.5" y2="527" stroke="#8800ff" stroke-width="1.3"/><line x1="419.6" y1="527" x2="427.4" y2="527" stroke="#8800ff" stroke-width="1.3"/>
<line x1="427.5" y1="516" x2="427.5" y2="519" stroke="#8800ff" stroke-width="1.3"/><line x1="423.6" y1="519" x2="431.4" y2="519" stroke="#8800ff" stroke-width="1.3"/><line x1="427.5" y1="530" x2="427.5" y2="527" stroke="#8800ff" stroke-width="1.3"/><line x1="423.6" y1="527" x2="431.4" y2="527" stroke="#8800ff" stroke-width="1.3"/>
<line x1="440.3" y1="513.9" x2="440.3" y2="516.9" stroke="#8800ff" stroke-width="1.3"/><line x1="436.4" y1="516.9" x2="444.2" y2="516.9" stroke="#8800ff" stroke-width="1.3"/><line x1="440.3" y1="527.9" x2="440.3" y2="524.9" stroke="#8800ff" stroke-width="1.3"/><line x1="436.4" y1="524.9" x2="444.2" y2="524.9" stroke="#8800ff" stroke-width="1.3"/>
<line x1="480" y1="512" x2="480" y2="515" stroke="#8800ff" stroke-width="1.3"/><line x1="476.1" y1="515" x2="483.9" y2="515" stroke="#8800ff" stroke-width="1.3"/><line x1="480" y1="526" x2="480" y2="523" stroke="#8800ff" stroke-width="1.3"/><line x1="476.1" y1="523" x2="483.9" y2="523" stroke="#8800ff" stroke-width="1.3"/>
<line x1="120.2" y1="751.93" x2="120.2" y2="748.63" stroke="#008000" stroke-width="1.3"/><line x1="116.3" y1="748.63" x2="124.1" y2="748.63" stroke="#008000" stroke-width="1.3"/><line x1="120.2" y1="769.93" x2="120.2" y2="772.33" stroke="#008000" stroke-width="1.3"/><line x1="116.3" y1="772.33" x2="124.1" y2="772.33" stroke="#008000" stroke-width="1.3"/>

<line x1="205.5" y1="695.43" x2="205.5" y2="701.93" stroke="#008000" stroke-width="1.3"/><line x1="201.6" y1="701.93" x2="209.4" y2="701.93" stroke="#008000" stroke-width="1.3"/><line x1="205.5" y1="713.43" x2="205.5" y2="706.93" stroke="#008000" stroke-width="1.3"/><line x1="201.6" y1="706.93" x2="209.4" y2="706.93" stroke="#008000" stroke-width="1.3"/>
<line x1="260.6" y1="648.73" x2="260.6" y2="648.23" stroke="#008000" stroke-width="1.3"/><line x1="256.7" y1="648.23" x2="264.5" y2="648.23" stroke="#008000" stroke-width="1.3"/><line x1="256.7" y1="666.73" x2="264.5" y2="666.73" stroke="#008000" stroke-width="1.3"/>
<line x1="320.3" y1="550.43" x2="320.3" y2="556.93" stroke="#008000" stroke-width="1.3"/><line x1="316.4" y1="556.93" x2="324.2" y2="556.93" stroke="#008000" stroke-width="1.3"/><line x1="320.3" y1="568.43" x2="320.3" y2="561.93" stroke="#008000" stroke-width="1.3"/><line x1="316.4" y1="561.93" x2="324.2" y2="561.93" stroke="#008000" stroke-width="1.3"/>
<line x1="345.5" y1="532.23" x2="345.5" y2="538.73" stroke="#008000" stroke-width="1.3"/><line x1="341.6" y1="538.73" x2="349.4" y2="538.73" stroke="#008000" stroke-width="1.3"/><line x1="345.5" y1="550.23" x2="345.5" y2="548.63" stroke="#008000" stroke-width="1.3"/><line x1="341.6" y1="548.63" x2="349.4" y2="548.63" stroke="#008000" stroke-width="1.3"/>
<line x1="368.2" y1="524.03" x2="368.2" y2="530.53" stroke="#008000" stroke-width="1.3"/><line x1="364.3" y1="530.53" x2="372.1" y2="530.53" stroke="#008000" stroke-width="1.3"/><line x1="368.2" y1="542.03" x2="368.2" y2="535.53" stroke="#008000" stroke-width="1.3"/><line x1="364.3" y1="535.53" x2="372.1" y2="535.53" stroke="#008000" stroke-width="1.3"/>
<line x1="397.2" y1="518.23" x2="397.2" y2="524.73" stroke="#008000" stroke-width="1.3"/><line x1="393.3" y1="524.73" x2="401.1" y2="524.73" stroke="#008000" stroke-width="1.3"/><line x1="397.2" y1="536.23" x2="397.2" y2="529.73" stroke="#008000" stroke-width="1.3"/><line x1="393.3" y1="529.73" x2="401.1" y2="529.73" stroke="#008000" stroke-width="1.3"/>
<line x1="411.6" y1="513.93" x2="411.6" y2="520.43" stroke="#008000" stroke-width="1.3"/><line x1="407.7" y1="520.43" x2="415.5" y2="520.43" stroke="#008000" stroke-width="1.3"/><line x1="411.6" y1="531.93" x2="411.6" y2="525.43" stroke="#008000" stroke-width="1.3"/><line x1="407.7" y1="525.43" x2="415.5" y2="525.43" stroke="#008000" stroke-width="1.3"/>
<line x1="436.8" y1="511.83" x2="436.8" y2="518.33" stroke="#008000" stroke-width="1.3"/><line x1="432.9" y1="518.33" x2="440.7" y2="518.33" stroke="#008000" stroke-width="1.3"/><line x1="436.8" y1="529.83" x2="436.8" y2="523.33" stroke="#008000" stroke-width="1.3"/><line x1="432.9" y1="523.33" x2="440.7" y2="523.33" stroke="#008000" stroke-width="1.3"/>
<line x1="483.4" y1="510.83" x2="483.4" y2="509.23" stroke="#008000" stroke-width="1.3"/><line x1="479.5" y1="509.23" x2="487.3" y2="509.23" stroke="#008000" stroke-width="1.3"/><line x1="483.4" y1="528.83" x2="483.4" y2="529.93" stroke="#008000" stroke-width="1.3"/><line x1="479.5" y1="529.93" x2="487.3" y2="529.93" stroke="#008000" stroke-width="1.3"/>
<line x1="113.9" y1="730.6" x2="113.9" y2="735.6" stroke="#0000ff" stroke-width="1.3"/><line x1="110" y1="735.6" x2="117.8" y2="735.6" stroke="#0000ff" stroke-width="1.3"/><line x1="113.9" y1="748.6" x2="113.9" y2="743.6" stroke="#0000ff" stroke-width="1.3"/><line x1="110" y1="743.6" x2="117.8" y2="743.6" stroke="#0000ff" stroke-width="1.3"/>
<line x1="169.8" y1="722.6" x2="169.8" y2="727.6" stroke="#0000ff" stroke-width="1.3"/><line x1="165.9" y1="727.6" x2="173.7" y2="727.6" stroke="#0000ff" stroke-width="1.3"/><line x1="169.8" y1="740.6" x2="169.8" y2="735.6" stroke="#0000ff" stroke-width="1.3"/><line x1="165.9" y1="735.6" x2="173.7" y2="735.6" stroke="#0000ff" stroke-width="1.3"/>
<line x1="230.6" y1="685.5" x2="230.6" y2="686.1" stroke="#0000ff" stroke-width="1.3"/><line x1="226.7" y1="686.1" x2="234.5" y2="686.1" stroke="#0000ff" stroke-width="1.3"/><line x1="230.6" y1="703.5" x2="230.6" y2="702.9" stroke="#0000ff" stroke-width="1.3"/><line x1="226.7" y1="702.9" x2="234.5" y2="702.9" stroke="#0000ff" stroke-width="1.3"/>
<line x1="280.3" y1="633.7" x2="280.3" y2="638.7" stroke="#0000ff" stroke-width="1.3"/><line x1="276.4" y1="638.7" x2="284.2" y2="638.7" stroke="#0000ff" stroke-width="1.3"/><line x1="280.3" y1="651.7" x2="280.3" y2="646.7" stroke="#0000ff" stroke-width="1.3"/><line x1="276.4" y1="646.7" x2="284.2" y2="646.7" stroke="#0000ff" stroke-width="1.3"/>
<line x1="334.3" y1="573.3" x2="334.3" y2="578.3" stroke="#0000ff" stroke-width="1.3"/><line x1="330.4" y1="578.3" x2="338.2" y2="578.3" stroke="#0000ff" stroke-width="1.3"/><line x1="334.3" y1="591.3" x2="334.3" y2="586.3" stroke="#0000ff" stroke-width="1.3"/><line x1="330.4" y1="586.3" x2="338.2" y2="586.3" stroke="#0000ff" stroke-width="1.3"/>
<line x1="365" y1="543.8" x2="365" y2="548.8" stroke="#0000ff" stroke-width="1.3"/><line x1="361.1" y1="548.8" x2="368.9" y2="548.8" stroke="#0000ff" stroke-width="1.3"/><line x1="365" y1="561.8" x2="365" y2="556.8" stroke="#0000ff" stroke-width="1.3"/><line x1="361.1" y1="556.8" x2="368.9" y2="556.8" stroke="#0000ff" stroke-width="1.3"/>
<line x1="387.8" y1="532.8" x2="387.8" y2="537.8" stroke="#0000ff" stroke-width="1.3"/><line x1="383.9" y1="537.8" x2="391.7" y2="537.8" stroke="#0000ff" stroke-width="1.3"/><line x1="387.8" y1="550.8" x2="387.8" y2="545.8" stroke="#0000ff" stroke-width="1.3"/><line x1="383.9" y1="545.8" x2="391.7" y2="545.8" stroke="#0000ff" stroke-width="1.3"/>
<line x1="419" y1="520.7" x2="419" y2="528.2" stroke="#0000ff" stroke-width="1.3"/><line x1="415.1" y1="528.2" x2="422.9" y2="528.2" stroke="#0000ff" stroke-width="1.3"/><line x1="419" y1="538.7" x2="419" y2="531.2" stroke="#0000ff" stroke-width="1.3"/><line x1="415.1" y1="531.2" x2="422.9" y2="531.2" stroke="#0000ff" stroke-width="1.3"/>
<line x1="431.3" y1="519" x2="431.3" y2="526.5" stroke="#0000ff" stroke-width="1.3"/><line x1="427.4" y1="526.5" x2="435.2" y2="526.5" stroke="#0000ff" stroke-width="1.3"/><line x1="431.3" y1="537" x2="431.3" y2="529.5" stroke="#0000ff" stroke-width="1.3"/><line x1="427.4" y1="529.5" x2="435.2" y2="529.5" stroke="#0000ff" stroke-width="1.3"/>
<line x1="499.3" y1="513.4" x2="499.3" y2="521.4" stroke="#0000ff" stroke-width="1.3"/><line x1="495.4" y1="521.4" x2="503.2" y2="521.4" stroke="#0000ff" stroke-width="1.3"/><line x1="499.3" y1="531.4" x2="499.3" y2="523.4" stroke="#0000ff" stroke-width="1.3"/><line x1="495.4" y1="523.4" x2="503.2" y2="523.4" stroke="#0000ff" stroke-width="1.3"/>
<circle cx="361.2" cy="715.3" r="6.4" fill="#fff"/><path d="M354.84,716 A6.4,6.4 0 1 1 367.56,716 Z" fill="#8800ff"/><circle cx="361.2" cy="715.3" r="6.4" fill="none" stroke="#8800ff" stroke-width="1.75"/>
<text x="389.2" y="721.7" font-family="'Liberation Serif', serif" stroke="#000" stroke-width="0.3" font-size="20.8">0.001 M NaNO<tspan font-size="12" dx="-0.6" dy="8.8">3</tspan></text>
<path d="M361.2,739.4 L368.6,752.4 L353.8,752.4 Z" fill="#fff"/><path d="M361.2,739.4 L368.6,752.4 L361.2,752.4 Z" fill="#008000"/><path d="M361.2,739.4 L368.6,752.4 L353.8,752.4 Z" fill="none" stroke="#008000" stroke-width="1.75" stroke-linejoin="miter"/>
<text x="389.2" y="753.9" font-family="'Liberation Serif', serif" stroke="#000" stroke-width="0.3" font-size="20.8">0.01 M NaNO<tspan font-size="12" dx="-0.6" dy="8.8">3</tspan></text>
<path d="M361.2,772.45 L369.05,780.3 L361.2,788.15 L353.35,780.3 Z" fill="#fff"/><path d="M354.25,779.4 L368.15,779.4 L369.05,780.3 L361.2,788.15 L353.35,780.3 Z" fill="#0000ff"/><path d="M361.2,772.45 L369.05,780.3 L361.2,788.15 L353.35,780.3 Z" fill="none" stroke="#0000ff" stroke-width="1.75"/>
<text x="389.2" y="786.1" font-family="'Liberation Serif', serif" stroke="#000" stroke-width="0.3" font-size="20.8">0.1 M NaNO<tspan font-size="12" dx="-0.6" dy="8.8">3</tspan></text>
</svg>
</body></html>
